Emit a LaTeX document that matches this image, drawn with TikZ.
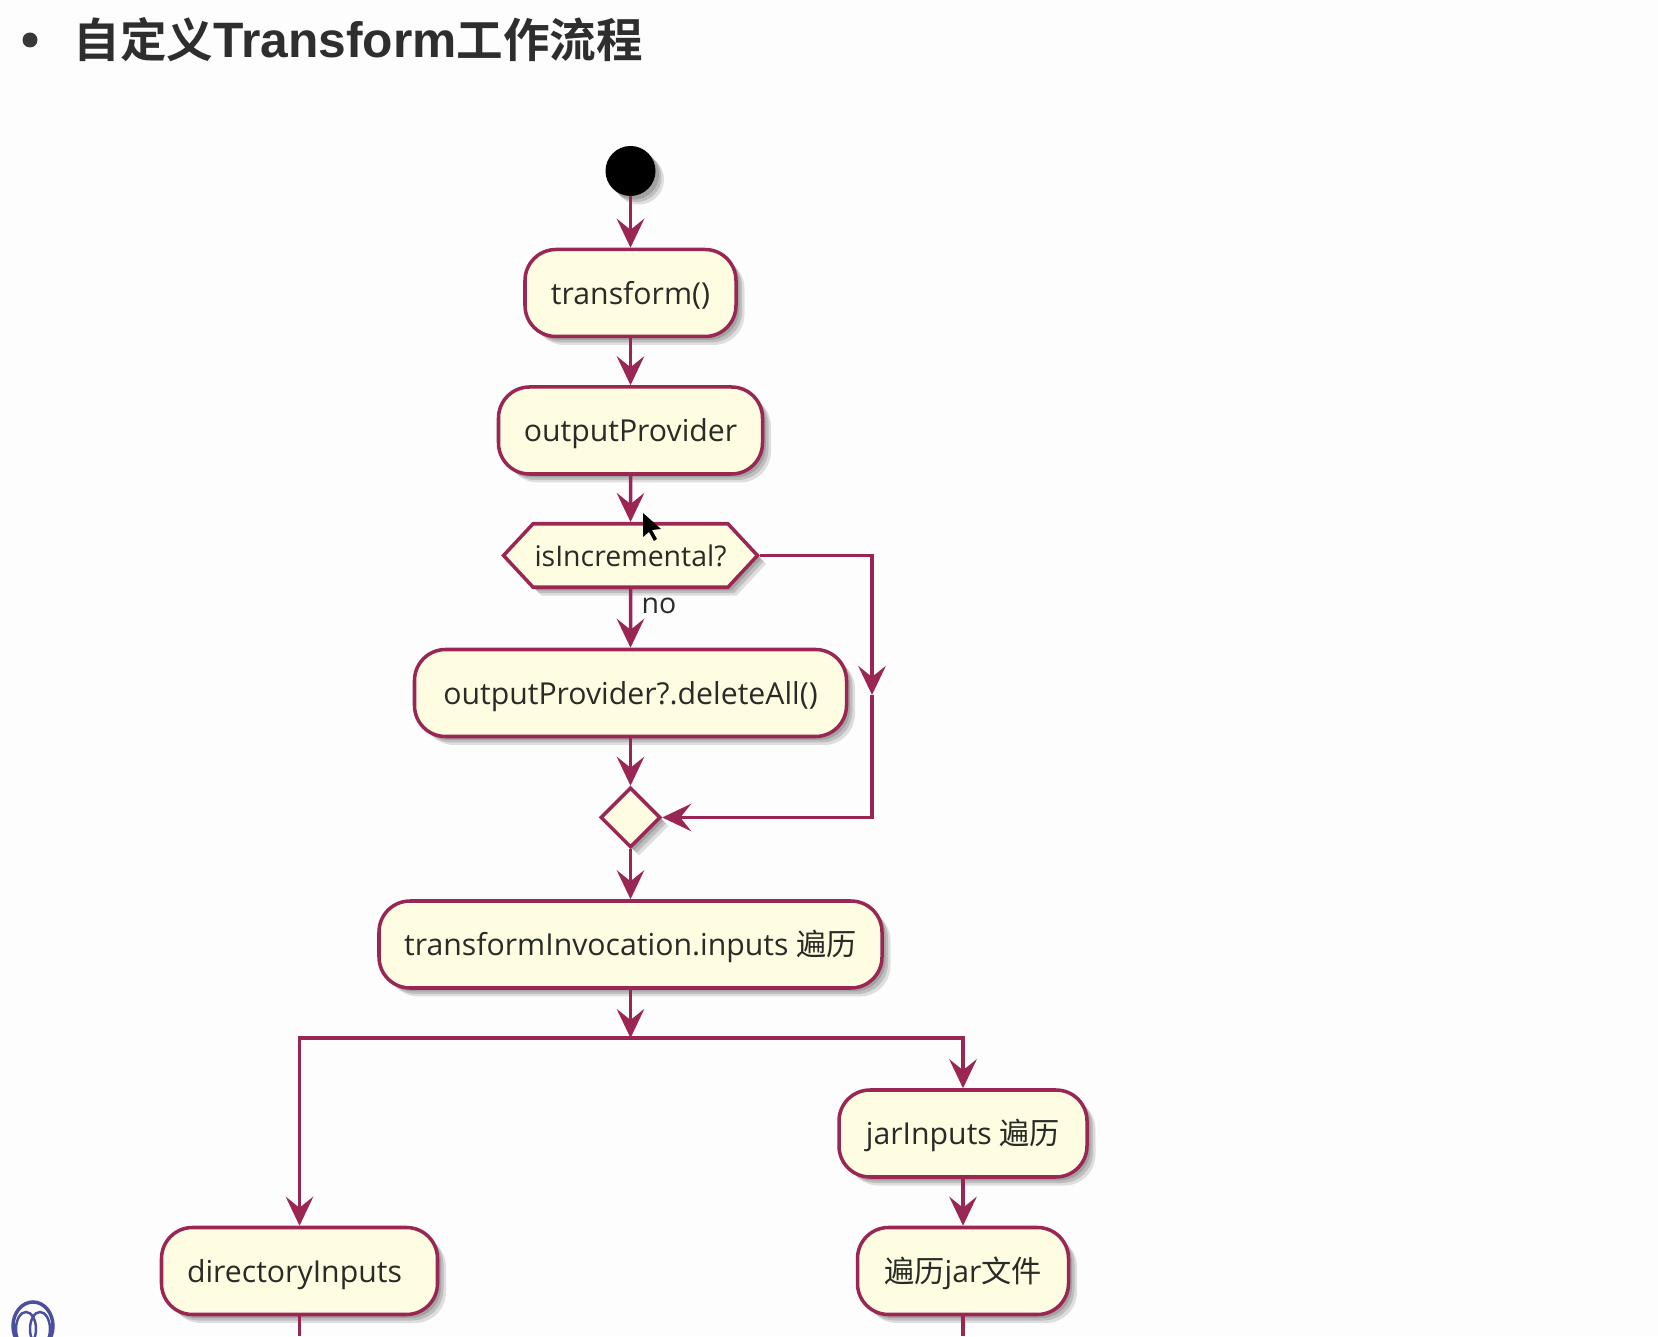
\documentclass[tikz,border=0pt]{standalone}
\usepackage{fontspec}
\setmainfont{Open Sans}
\newfontfamily\cjk{Noto Sans CJK SC}
\newfontfamily\titlefont{Liberation Sans}[BoldFont={Liberation Sans Bold}]
\newfontfamily\titlecjk{Noto Sans CJK SC}[BoldFont={Noto Sans CJK SC Bold}]
\usetikzlibrary{arrows.meta, positioning, shapes.geometric, shapes.symbols, shadows}

\definecolor{umlline}{HTML}{9A2654}
\definecolor{umlfill}{HTML}{FEFDE2}
\definecolor{umltext}{HTML}{2A2A26}
\definecolor{pagebg}{HTML}{FEFDFE}
\definecolor{logoblue}{HTML}{4A4FA0}

\tikzset{
	softshadow/.style={
		drop shadow={shadow xshift=0.17, shadow yshift=-0.17, fill=black, opacity=0.12},
		drop shadow={shadow xshift=0.12, shadow yshift=-0.12, fill=black, opacity=0.14},
		drop shadow={shadow xshift=0.07, shadow yshift=-0.07, fill=black, opacity=0.14}},
	activity/.style={draw=umlline, line width=2pt, fill=umlfill, rounded corners=0.62cm, text=umltext,
		minimum height=1.74cm, inner sep=0pt, text height=15pt, text depth=2pt,
		font=\fontsize{17.2}{20}\selectfont, softshadow},
	branch/.style={draw=umlline, line width=2pt, fill=umlfill, shape=signal, signal to=east and west, text=umltext,
		signal pointer angle=94, inner sep=0pt, minimum height=1.27cm, minimum width=5.08cm,
		font=\fontsize{16.2}{20}\selectfont, softshadow},
	merge/.style={draw=umlline, line width=2pt, fill=umlfill, diamond, aspect=1, inner sep=0pt,
		minimum size=1.2cm, softshadow},
	flow/.style={draw=umlline, line width=2pt, -{Stealth[length=0.58cm, width=0.55cm, inset=0.22cm]}},
	flowplain/.style={draw=umlline, line width=2pt},
}

\begin{document}
\begin{tikzpicture}

	% page
	\fill[pagebg] (0, 0) rectangle (33.16, 26.72);
	\useasboundingbox (0, 0) rectangle (33.16, 26.72);

	% title
	\fill[black!78] (0.6, 25.92) circle (0.15);
	\node[anchor=west, inner sep=0pt, text=black!82, font=\bfseries] (title) at (1.47, 25.92)
		{{\titlecjk\fontsize{26.5}{30}\selectfont 自定义}{\titlefont\fontsize{28.3}{30}\selectfont Transform}{\titlecjk\fontsize{26.5}{30}\selectfont 工作流程}};

	% start and the upper activities
	\node[circle, fill=black, minimum size=1cm, inner sep=0pt, softshadow] (start) at (12.61, 23.3) {};
	\node[activity, minimum width=4.22cm] (transform) at (12.61, 20.86) {transform()};
	\node[activity, minimum width=5.28cm] (provider) at (12.61, 18.11) {outputProvider};
	\node[branch] (incremental) at (12.61, 15.61) {isIncremental?};
	\node[activity, minimum width=8.64cm] (deleteall) at (12.61, 12.86) {outputProvider?.deleteAll()};
	\node[merge] (mergeall) at (12.61, 10.37) {};
	\node[activity, minimum width=10.06cm] (inputs) at (12.61, 7.83) {transformInvocation.inputs {\cjk 遍历}};

	% the two branches
	\node[activity, minimum width=4.96cm] (jarinputs) at (19.26, 4.05) {jarInputs {\cjk 遍历}};
	\node[activity, minimum width=5.52cm] (dirinputs) at (5.99, 1.3) {directoryInputs\hspace{0.2cm}\mbox{}};
	\node[activity, minimum width=4.22cm] (jarfile) at (19.26, 1.3) {{\cjk 遍历}jar{\cjk 文件}};

	% connectors
	\draw[flow] (start) -- (transform);
	\draw[flow] (transform) -- (provider);
	\draw[flow] (provider) -- (incremental);
	\draw[flow] (incremental) -- (deleteall);
	\node[text=umltext, inner sep=0pt, font=\fontsize{16.2}{20}\selectfont] (nolabel) at (13.18, 14.6) {no};
	\draw[flow] (deleteall) -- (mergeall);
	\draw[flow] (mergeall) -- (inputs);

	% the way round
	\coordinate (turntop) at (17.44, 15.61);
	\coordinate (turnmid) at (17.44, 12.82);
	\coordinate (turnlow) at (17.44, 10.37);
	\draw[flow] (incremental.east) -- (turntop) -- (turnmid);
	\draw[flow] (turnmid) -- (turnlow) -- (mergeall.east);

	% fork
	\coordinate (forkmid) at (12.61, 5.96);
	\coordinate (endleft) at (5.99, 0);
	\coordinate (endright) at (19.26, 0);
	\draw[flow] (inputs) -- (forkmid);
	\draw[flow] (forkmid) -| (dirinputs);
	\draw[flow] (forkmid) -| (jarinputs);
	\draw[flow] (jarinputs) -- (jarfile);
	\draw[flowplain] (dirinputs) -- (endleft);
	\draw[flowplain] (jarfile) -- (endright);

	% mouse pointer
	\fill[black] (12.86, 16.46) -- (12.86, 15.98) -- (12.98, 16.08) -- (13.08, 15.90) -- (13.14, 15.94) -- (13.04, 16.12) -- (13.22, 16.14) -- cycle;

	% logo in the corner
	\draw[logoblue, line width=2pt] (0.66, 0.2) ellipse (0.4 and 0.48);
	\draw[logoblue, line width=1.4pt] (0.52, 0.14) ellipse (0.2 and 0.34);
	\draw[logoblue, line width=1.4pt] (0.8, 0.14) ellipse (0.2 and 0.34);

\end{tikzpicture}
\end{document}
